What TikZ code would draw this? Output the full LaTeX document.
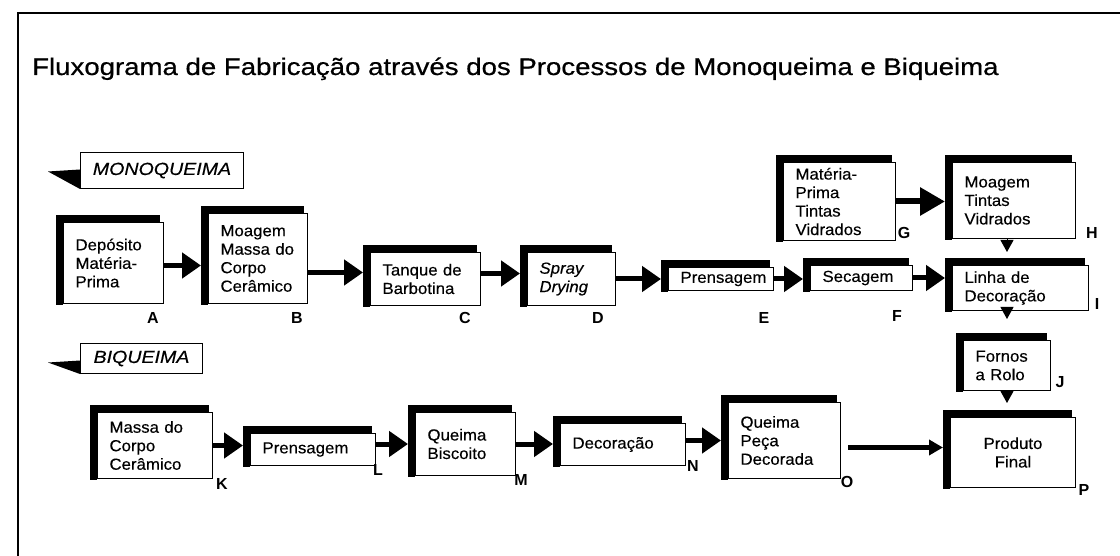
\documentclass[tikz,border=0pt]{standalone}
\usepackage{fontspec}
\setmainfont{Liberation Sans}
\newfontfamily\titlefont[FakeStretch=1.15,FakeBold=0.6]{Liberation Sans}
\newfontfamily\boxfont[FakeStretch=1.05,FakeBold=0.3]{Liberation Sans}
\newfontfamily\tagfont[FakeStretch=1.12,FakeBold=0.4]{Liberation Sans}
\usetikzlibrary{arrows.meta}
\begin{document}
\begin{tikzpicture}[x=1pt,y=-1pt,
  pbox/.style 2 args={draw, line width=1pt, fill=white, anchor=north west,
    inner xsep=12pt, inner ysep=0pt, align=left, text width=#1pt, minimum height=#2pt,
    font=\boxfont\fontsize{16}{18.5}\selectfont},
  tagbox/.style={draw, line width=1pt, anchor=north west, inner sep=0pt,
    font=\tagfont\itshape\fontsize{17.5}{17.5}\selectfont},
  lbl/.style={font=\bfseries\fontsize{16}{16}\selectfont, inner sep=0pt},
  bigarrow/.style={line width=5pt, -{Triangle[length=19pt,width=25pt]}, shorten >=7pt},
  hugearrow/.style={line width=6pt, -{Triangle[length=25pt,width=27pt]}, shorten >=7pt},
  slimarrow/.style={line width=5pt, -{Triangle[length=14pt,width=15pt]}, shorten >=7pt, shorten <=7pt},
  tri/.style={line width=1pt, -{Triangle[length=12pt,width=13pt]}}
]
\useasboundingbox (0,0) rectangle (1120,556);
\fill[white] (0,0) rectangle (1120,556);
% frame
\draw[line width=1.6pt] (18,570) -- (18,13) -- (1130,13);
% title
\node[anchor=base west, inner sep=0pt, font=\titlefont\fontsize{24}{24}\selectfont] (title) at (32,75)
  {Fluxograma de Fabricação através dos Processos de Monoqueima e Biqueima};
% tags
\node[tagbox, minimum width=163pt, minimum height=36pt] (monotag) at (80,152) {MONOQUEIMA};
\node[tagbox, minimum width=122pt, minimum height=30pt] (bitag) at (80,343) {BIQUEIMA};
\fill ([xshift=-32pt,yshift=-1pt]monotag.west) -- ([yshift=1pt]monotag.west) -- (monotag.south west) -- cycle;
\fill ([xshift=-32pt,yshift=-4pt]bitag.west) -- ([yshift=-2pt]bitag.west) -- (bitag.south west) -- cycle;
% boxes
\node[pbox={76}{81}] (A) at (63,222) {Depósito\\Matéria-\\Prima};
\node[pbox={75}{90}] (B) at (208,213) {Moagem\\Massa do\\Corpo\\Cerâmico};
\node[pbox={86}{53}] (C) at (370,252) {Tanque de\\Barbotina};
\node[pbox={64}{53}] (D) at (527,252) {\itshape Spray\\\itshape Drying};
\node[pbox={81}{23}] (E) at (668,267) {Prensagem};
\node[pbox={78}{25}] (F) at (810,265) {Secagem};
\node[pbox={88}{78}] (G) at (783,162) {Matéria-\\Prima\\Tintas\\Vidrados};
\node[pbox={99}{76}] (H) at (952,162) {Moagem\\Tintas\\Vidrados};
\node[pbox={112}{45}] (I) at (952,265) {Linha de\\Decoração};
\node[pbox={63}{50}] (J) at (963,340) {Fornos\\a Rolo};
\node[pbox={91}{66}] (K) at (97,412) {Massa do\\Corpo\\Cerâmico};
\node[pbox={101}{32}] (L) at (250,433) {Prensagem};
\node[pbox={76}{63}] (M) at (415,412) {Queima\\Biscoito};
\node[pbox={101}{42}] (N) at (560,423) {Decoração};
\node[pbox={88}{76}] (O) at (728,402) {Queima\\Peça\\Decorada};
\node[pbox={101}{70}, align=center] (P) at (950,417) {Produto\\Final};
% heavy left and top edges
\foreach \n in {A,B,C,D,E,F,G,H,I,J,K,L,M,N,O,P}{
  \fill ([xshift=-7pt]\n.north west) rectangle ([yshift=-1pt]\n.south west);
  \fill ([xshift=-7pt,yshift=7pt]\n.north west) rectangle ([xshift=-4pt]\n.north east);
}
% letters
\node[lbl] (lA) at (153,318) {A};
\node[lbl] (lB) at (297,318) {B};
\node[lbl] (lC) at (465,318) {C};
\node[lbl] (lD) at (598,318) {D};
\node[lbl] (lE) at (764,318) {E};
\node[lbl] (lF) at (897,316) {F};
\node[lbl] (lG) at (904,233) {G};
\node[lbl] (lH) at (1092,233) {H};
\node[lbl] (lI) at (1097,304) {I};
\node[lbl] (lJ) at (1060,382) {J};
\node[lbl] (lK) at (222,484) {K};
\node[lbl] (lL) at (378,470) {L};
\node[lbl] (lM) at (521,480) {M};
\node[lbl] (lN) at (693,466) {N};
\node[lbl] (lO) at (847,482) {O};
\node[lbl] (lP) at (1084,490) {P};
% connectors
\draw[bigarrow] ([yshift=-2.5pt]A.east) -- ([yshift=-2.5pt]A.east -| B.west);
\draw[bigarrow] ([yshift=6.5pt]C.west -| B.east) -- ([yshift=6.5pt]C.west);
\draw[bigarrow] ([yshift=5.5pt]C.east) -- ([yshift=5.5pt]C.east -| D.west);
\draw[bigarrow] (D.east) -- (D.east -| E.west);
\draw[bigarrow] (E.east) -- (E.east -| F.west);
\draw[bigarrow] (F.east) -- (F.east -| I.west);
\draw[hugearrow] (G.east) -- (G.east -| H.west);
\draw[bigarrow] (K.east) -- (K.east -| L.west);
\draw[bigarrow] (M.west -| L.east) -- (M.west);
\draw[bigarrow] (M.east) -- (M.east -| N.west);
\draw[bigarrow] (O.west -| N.east) -- (O.west);
\draw[slimarrow] ([yshift=-7pt]O.east) -- ([yshift=-7pt]O.east -| P.west);
\draw[tri, shorten >=13pt] (H.south -| J) -- (I.north -| J);
\draw[tri, shorten >=14pt] (I.south -| J) -- ([yshift=7pt]J.north);
\draw[tri, shorten >=14pt] (J.south) -- (J.south |- P.north);
\end{tikzpicture}
\end{document}
